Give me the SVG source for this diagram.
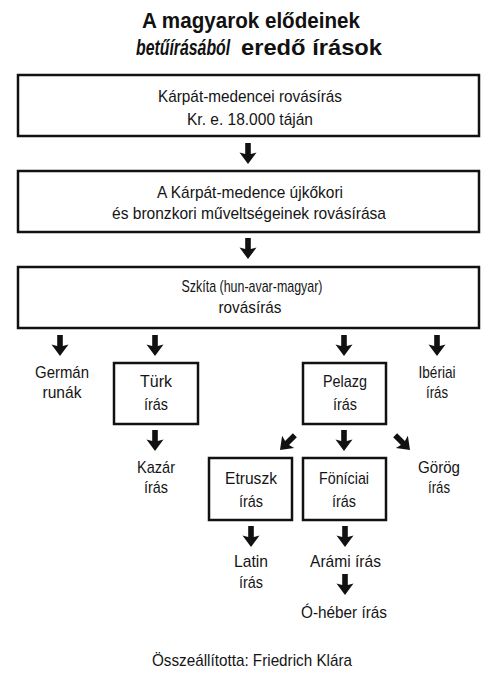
<svg xmlns="http://www.w3.org/2000/svg" xmlns:xlink="http://www.w3.org/1999/xlink" width="500" height="677" viewBox="0 0 500 677">
<defs>
<style>
.box{fill:#fff;stroke:#111;stroke-width:2.5}
.t{font-family:"Liberation Sans",Arial,sans-serif;font-size:17px;fill:#151515;text-anchor:middle}
.ti{font-family:"Liberation Sans",Arial,sans-serif;font-size:22px;font-weight:bold;fill:#111}
.ar{fill:#111}
</style>
<path id="arr" d="M-2.8,-21 H2.8 V-10 L8.5,-11.5 L0,0 L-8.5,-11.5 L-2.8,-10 Z"/>
</defs>
<rect width="500" height="677" fill="#fff"/>
<g id="title">
<text class="ti" x="251" y="28" text-anchor="middle" textLength="218" lengthAdjust="spacingAndGlyphs">A magyarok elődeinek</text>
<text class="ti" transform="translate(136,55) scale(0.72,1)" font-style="italic">betűírásából</text>
<text class="ti" x="241" y="55" textLength="141" lengthAdjust="spacingAndGlyphs">eredő írások</text>
</g>
<g id="n1">
<rect class="box" x="18" y="75" width="461" height="61"/>
<text class="t" x="250" y="102" textLength="184" lengthAdjust="spacingAndGlyphs">Kárpát-medencei rovásírás</text>
<text class="t" x="250" y="125" textLength="126" lengthAdjust="spacingAndGlyphs">Kr. e. 18.000 táján</text>
</g>
<g id="n2">
<rect class="box" x="18" y="171" width="461" height="61"/>
<text class="t" x="250" y="198" textLength="186" lengthAdjust="spacingAndGlyphs">A Kárpát-medence újkőkori</text>
<text class="t" x="249" y="219" textLength="274" lengthAdjust="spacingAndGlyphs">és bronzkori műveltségeinek rovásírása</text>
</g>
<g id="n3">
<rect class="box" x="18" y="267" width="461" height="61"/>
<text class="t" x="252" y="292" textLength="141" lengthAdjust="spacingAndGlyphs">Szkíta (hun-avar-magyar)</text>
<text class="t" x="250" y="313" textLength="63" lengthAdjust="spacingAndGlyphs">rovásírás</text>
</g>
<g id="german">
<text class="t" x="62" y="378" textLength="54" lengthAdjust="spacingAndGlyphs">Germán</text>
<text class="t" x="62" y="398" textLength="39" lengthAdjust="spacingAndGlyphs">runák</text>
</g>
<g id="turk">
<rect class="box" x="114" y="363" width="84" height="61"/>
<text class="t" x="156" y="387" textLength="32" lengthAdjust="spacingAndGlyphs">Türk</text>
<text class="t" x="156" y="410" textLength="24" lengthAdjust="spacingAndGlyphs">írás</text>
</g>
<g id="pelazg">
<rect class="box" x="303" y="363" width="83" height="61"/>
<text class="t" x="345" y="387" textLength="44" lengthAdjust="spacingAndGlyphs">Pelazg</text>
<text class="t" x="345" y="410" textLength="24" lengthAdjust="spacingAndGlyphs">írás</text>
</g>
<g id="iberiai">
<text class="t" x="437" y="378" textLength="37" lengthAdjust="spacingAndGlyphs">Ibériai</text>
<text class="t" x="437" y="398" textLength="22" lengthAdjust="spacingAndGlyphs">írás</text>
</g>
<g id="kazar">
<text class="t" x="156" y="473" textLength="38" lengthAdjust="spacingAndGlyphs">Kazár</text>
<text class="t" x="156" y="493" textLength="24" lengthAdjust="spacingAndGlyphs">írás</text>
</g>
<g id="etruszk">
<rect class="box" x="209" y="458" width="83" height="62"/>
<text class="t" x="251" y="484" textLength="52" lengthAdjust="spacingAndGlyphs">Etruszk</text>
<text class="t" x="251" y="507" textLength="24" lengthAdjust="spacingAndGlyphs">írás</text>
</g>
<g id="fonicia">
<rect class="box" x="303" y="458" width="83" height="62"/>
<text class="t" x="344" y="484" textLength="50" lengthAdjust="spacingAndGlyphs">Föníciai</text>
<text class="t" x="344" y="507" textLength="24" lengthAdjust="spacingAndGlyphs">írás</text>
</g>
<g id="gorog">
<text class="t" x="439" y="473" textLength="42" lengthAdjust="spacingAndGlyphs">Görög</text>
<text class="t" x="439" y="493" textLength="22" lengthAdjust="spacingAndGlyphs">írás</text>
</g>
<g id="latin">
<text class="t" x="251" y="567" textLength="34" lengthAdjust="spacingAndGlyphs">Latin</text>
<text class="t" x="251" y="588" textLength="24" lengthAdjust="spacingAndGlyphs">írás</text>
</g>
<g id="arami">
<text class="t" x="345.5" y="567" textLength="71" lengthAdjust="spacingAndGlyphs">Arámi írás</text>
</g>
<g id="oheber">
<text class="t" x="344" y="618" textLength="86" lengthAdjust="spacingAndGlyphs">Ó-héber írás</text>
</g>
<g id="footer">
<text class="t" x="252" y="666" textLength="200" lengthAdjust="spacingAndGlyphs">Összeállította: Friedrich Klára</text>
</g>
<g id="connectors" class="ar">
<use xlink:href="#arr" transform="translate(248,164)"/>
<use xlink:href="#arr" transform="translate(248,259)"/>
<use xlink:href="#arr" transform="translate(60,356)"/>
<use xlink:href="#arr" transform="translate(155,356)"/>
<use xlink:href="#arr" transform="translate(344,356)"/>
<use xlink:href="#arr" transform="translate(437,356)"/>
<use xlink:href="#arr" transform="translate(155,451)"/>
<use xlink:href="#arr" transform="translate(280,450) rotate(45)"/>
<use xlink:href="#arr" transform="translate(344,451)"/>
<use xlink:href="#arr" transform="translate(410,450) rotate(-45)"/>
<use xlink:href="#arr" transform="translate(251,547)"/>
<use xlink:href="#arr" transform="translate(345,547)"/>
<use xlink:href="#arr" transform="translate(345,595)"/>
</g>
</svg>
